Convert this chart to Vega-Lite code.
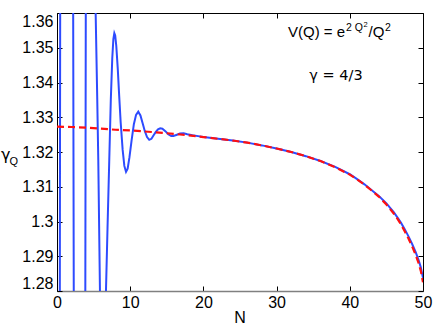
{
  "$schema": "https://vega.github.io/schema/vega-lite/v6.json",
  "width": 366,
  "height": 278,
  "autosize": {"type": "none"},
  "padding": {"left": 57, "top": 13, "right": 13, "bottom": 36},
  "background": "#ffffff",
  "config": {
    "view": {"stroke": "#000000", "strokeWidth": 1},
    "font": "Liberation Sans",
    "axis": {"grid": false, "labelFont": "Liberation Sans", "labelFontSize": 16, "labelColor": "#000000", "tickColor": "#000000", "tickWidth": 1, "title": null}
  },
  "resolve": {"axis": {"x": "independent", "y": "independent"}},
  "datasets": {
    "blue": [
      {"N": 0.38, "g": 1.27}, {"N": 0.44, "g": 1.37}, {"N": 1.3, "g": 1.8}, {"N": 2.2, "g": 1.37}, {"N": 2.3, "g": 1.27},
      {"N": 3.1, "g": 1.0}, {"N": 3.86, "g": 1.27}, {"N": 3.94, "g": 1.37}, {"N": 4.6, "g": 1.6}, {"N": 5.28, "g": 1.36},
      {"N": 5.5, "g": 1.335}, {"N": 5.64, "g": 1.3177}, {"N": 5.87, "g": 1.28}, {"N": 6.05, "g": 1.2705}, {"N": 6.33, "g": 1.267},
      {"N": 6.5, "g": 1.271}, {"N": 6.69, "g": 1.28}, {"N": 6.9, "g": 1.298}, {"N": 7.14, "g": 1.3177}, {"N": 7.35, "g": 1.335},
      {"N": 7.55, "g": 1.347}, {"N": 7.7, "g": 1.3525}, {"N": 7.83, "g": 1.3542}, {"N": 7.95, "g": 1.3535}, {"N": 8.1, "g": 1.3505},
      {"N": 8.3, "g": 1.344}, {"N": 8.5, "g": 1.336}, {"N": 8.7, "g": 1.3285}, {"N": 8.97, "g": 1.3206}, {"N": 9.2, "g": 1.316},
      {"N": 9.43, "g": 1.3143}, {"N": 9.65, "g": 1.3152}, {"N": 9.9, "g": 1.3185}, {"N": 10.2, "g": 1.3235}, {"N": 10.5, "g": 1.328},
      {"N": 10.8, "g": 1.3307}, {"N": 11.1, "g": 1.3316}, {"N": 11.4, "g": 1.3305}, {"N": 11.7, "g": 1.3283}, {"N": 12.0, "g": 1.326},
      {"N": 12.3, "g": 1.3243}, {"N": 12.6, "g": 1.3235}, {"N": 12.9, "g": 1.3238}, {"N": 13.2, "g": 1.3248}, {"N": 13.5, "g": 1.3258},
      {"N": 13.8, "g": 1.3265}, {"N": 14.1, "g": 1.3268}, {"N": 14.4, "g": 1.3267}, {"N": 14.8, "g": 1.326}, {"N": 15.2, "g": 1.3251},
      {"N": 15.6, "g": 1.3246}, {"N": 15.9, "g": 1.3246}, {"N": 16.3, "g": 1.3249}, {"N": 16.8, "g": 1.3253}, {"N": 17.3, "g": 1.3254},
      {"N": 17.8, "g": 1.3251}, {"N": 18.5, "g": 1.3248}, {"N": 19.5, "g": 1.3245}, {"N": 20, "g": 1.3243}, {"N": 22, "g": 1.3238},
      {"N": 24, "g": 1.3233}, {"N": 26, "g": 1.3227}, {"N": 28, "g": 1.3219}, {"N": 30, "g": 1.321}, {"N": 32, "g": 1.32},
      {"N": 34, "g": 1.3188}, {"N": 36, "g": 1.3174}, {"N": 38, "g": 1.3157}, {"N": 40, "g": 1.3136}, {"N": 41, "g": 1.3122},
      {"N": 42, "g": 1.3107}, {"N": 43, "g": 1.309}, {"N": 44, "g": 1.3073}, {"N": 45, "g": 1.3052}, {"N": 46, "g": 1.3027},
      {"N": 46.5, "g": 1.3012}, {"N": 47, "g": 1.2996}, {"N": 47.5, "g": 1.2978}, {"N": 48, "g": 1.2958}, {"N": 48.5, "g": 1.2936},
      {"N": 49, "g": 1.2912}, {"N": 49.4, "g": 1.2889}, {"N": 49.7, "g": 1.2868}, {"N": 50, "g": 1.2838}
    ],
    "red": [
      {"N": 0, "g": 1.3273}, {"N": 2, "g": 1.3272}, {"N": 4, "g": 1.327}, {"N": 6, "g": 1.3267}, {"N": 8, "g": 1.3264},
      {"N": 10, "g": 1.3262}, {"N": 12, "g": 1.3259}, {"N": 14, "g": 1.3256}, {"N": 16, "g": 1.3252}, {"N": 18, "g": 1.3248},
      {"N": 20, "g": 1.3243}, {"N": 22, "g": 1.3238}, {"N": 24, "g": 1.3233}, {"N": 26, "g": 1.3227}, {"N": 28, "g": 1.3219},
      {"N": 30, "g": 1.321}, {"N": 32, "g": 1.32}, {"N": 34, "g": 1.3188}, {"N": 36, "g": 1.3174}, {"N": 38, "g": 1.3156},
      {"N": 40, "g": 1.3135}, {"N": 41, "g": 1.3121}, {"N": 42, "g": 1.3106}, {"N": 43, "g": 1.3089}, {"N": 44, "g": 1.3071},
      {"N": 45, "g": 1.3049}, {"N": 46, "g": 1.3023}, {"N": 46.5, "g": 1.3008}, {"N": 47, "g": 1.2991}, {"N": 47.5, "g": 1.2972},
      {"N": 48, "g": 1.2952}, {"N": 48.5, "g": 1.2929}, {"N": 49, "g": 1.2904}, {"N": 49.4, "g": 1.288}, {"N": 49.7, "g": 1.2858},
      {"N": 50, "g": 1.2825}
    ]
  },
  "layer": [
    {
      "data": {"name": "blue"},
      "mark": {"type": "line", "color": "#2d4bff", "strokeWidth": 2, "clip": true},
      "encoding": {
        "x": {"field": "N", "type": "quantitative", "scale": {"domain": [0, 50], "nice": false, "zero": false},
          "axis": {"orient": "bottom", "values": [0, 10, 20, 30, 40, 50], "format": "d", "title": null, "tickSize": -5, "labelPadding": 8, "labelFlush": false, "domainColor": "#808080", "domainWidth": 1.5}},
        "y": {"field": "g", "type": "quantitative", "scale": {"domain": [1.28, 1.36], "nice": false, "zero": false},
          "axis": {"orient": "left", "values": [1.28, 1.29, 1.3, 1.31, 1.32, 1.33, 1.34, 1.35, 1.36], "format": "~g", "title": null, "tickSize": -5, "labelPadding": 9, "labelFlush": true, "domainColor": "#000000", "domainWidth": 1}}
      }
    },
    {
      "data": {"name": "red"},
      "mark": {"type": "line", "color": "#ff1010", "strokeWidth": 2.2, "strokeDash": [7, 4], "clip": true},
      "encoding": {
        "x": {"field": "N", "type": "quantitative", "scale": {"domain": [0, 50], "nice": false, "zero": false},
          "axis": {"orient": "top", "values": [0, 10, 20, 30, 40, 50], "labels": false, "title": null, "tickSize": -5, "domain": false}},
        "y": {"field": "g", "type": "quantitative", "scale": {"domain": [1.28, 1.36], "nice": false, "zero": false},
          "axis": {"orient": "right", "values": [1.28, 1.29, 1.3, 1.31, 1.32, 1.33, 1.34, 1.35, 1.36], "labels": false, "title": null, "tickSize": -5, "domain": false}}
      }
    },
    {
      "data": {"values": [
        {"N": 31.557, "g": 1.35295, "t": "V(Q) = e"},
        {"N": 42.55, "g": 1.35295, "t": "/Q"}
      ]},
      "mark": {"type": "text", "fontSize": 15, "font": "Liberation Sans", "align": "left", "baseline": "alphabetic", "color": "#000000"},
      "encoding": {
        "x": {"field": "N", "type": "quantitative", "axis": null},
        "y": {"field": "g", "type": "quantitative", "axis": null},
        "text": {"field": "t"}
      }
    },
    {
      "data": {"values": [
        {"N": 38.11, "g": 1.34072, "t": "γ = 4/3"}
      ]},
      "mark": {"type": "text", "fontSize": 14.5, "font": "DejaVu Sans", "align": "center", "baseline": "alphabetic", "color": "#000000"},
      "encoding": {
        "x": {"field": "N", "type": "quantitative", "axis": null},
        "y": {"field": "g", "type": "quantitative", "axis": null},
        "text": {"field": "t"}
      }
    },
    {
      "data": {"values": [
        {"N": 39.48, "g": 1.35482, "t": "2 Q"},
        {"N": 44.81, "g": 1.35482, "t": "2"}
      ]},
      "mark": {"type": "text", "fontSize": 10.5, "font": "Liberation Sans", "align": "left", "baseline": "alphabetic", "color": "#000000"},
      "encoding": {
        "x": {"field": "N", "type": "quantitative", "axis": null},
        "y": {"field": "g", "type": "quantitative", "axis": null},
        "text": {"field": "t"}
      }
    },
    {
      "data": {"values": [
        {"N": 41.87, "g": 1.35597, "t": "2"}
      ]},
      "mark": {"type": "text", "fontSize": 7.5, "font": "Liberation Sans", "align": "left", "baseline": "alphabetic", "color": "#000000"},
      "encoding": {
        "x": {"field": "N", "type": "quantitative", "axis": null},
        "y": {"field": "g", "type": "quantitative", "axis": null},
        "text": {"field": "t"}
      }
    },
    {
      "data": {"values": [
        {"N": -7.65, "g": 1.3177, "t": "γ"}
      ]},
      "mark": {"type": "text", "fontSize": 16, "font": "DejaVu Sans", "align": "left", "baseline": "alphabetic", "color": "#000000"},
      "encoding": {
        "x": {"field": "N", "type": "quantitative", "axis": null},
        "y": {"field": "g", "type": "quantitative", "axis": null},
        "text": {"field": "t"}
      }
    },
    {
      "data": {"values": [
        {"N": -6.5, "g": 1.31626, "t": "Q"}
      ]},
      "mark": {"type": "text", "fontSize": 11, "font": "Liberation Sans", "align": "left", "baseline": "alphabetic", "color": "#000000"},
      "encoding": {
        "x": {"field": "N", "type": "quantitative", "axis": null},
        "y": {"field": "g", "type": "quantitative", "axis": null},
        "text": {"field": "t"}
      }
    },
    {
      "data": {"values": [
        {"N": 25.0, "g": 1.27079, "t": "N"}
      ]},
      "mark": {"type": "text", "fontSize": 16, "font": "Liberation Sans", "align": "center", "baseline": "alphabetic", "color": "#000000"},
      "encoding": {
        "x": {"field": "N", "type": "quantitative", "axis": null},
        "y": {"field": "g", "type": "quantitative", "axis": null},
        "text": {"field": "t"}
      }
    }
  ]
}
